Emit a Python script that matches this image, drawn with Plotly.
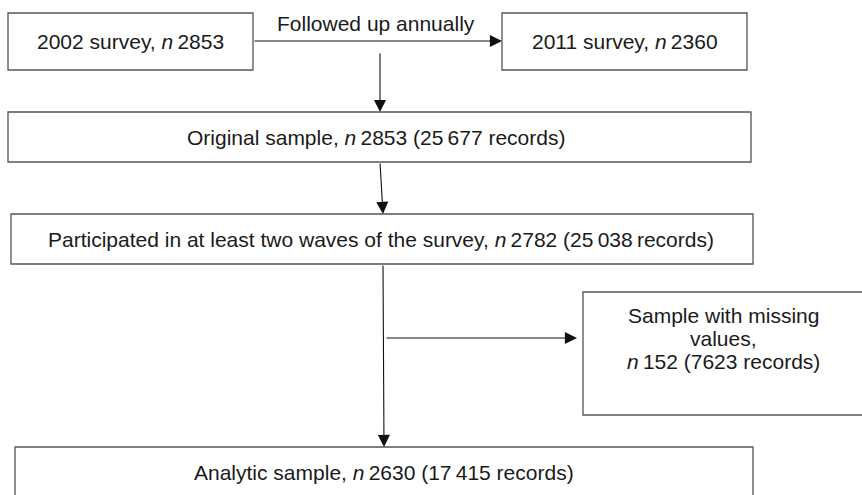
import plotly.graph_objects as go

# ---- content (texts / counts) ----
survey_years = ["2002", "2011"]
survey_n = ["2853", "2360"]
stage_names = ["Original sample", "Participated in at least two waves of the survey",
               "Analytic sample"]
stage_n = ["2853", "2782", "2630"]
stage_records = ["25\u2009677", "25\u2009038", "17\u2009415"]
excluded_name = ["Sample with missing", "values,"]
excluded_n = "152"
excluded_records = "7623"
followup_label = "Followed up annually"

# ---- layout geometry (pixels, y downward) ----
W, H = 862, 495
boxes = {
    "s2002": (8, 253, 13, 70),
    "s2011": (502, 747, 13, 70),
    "orig": (8, 751, 112, 162),
    "part": (11, 753, 214, 264),
    "miss": (583, 900, 292, 415),
    "anal": (15, 753, 447, 520),
}
FONT = dict(family="Liberation Sans, Arial, sans-serif", size=21, color="#1a1a1a")
TS = "\u2009"
BOX_LINE = dict(color="#555555", width=1.3)

fig = go.Figure()
shapes = []
for (x0, x1, y0, y1) in boxes.values():
    path = f"M {x1},{y0} L {x0},{y0} L {x0},{y1} L {x1},{y1}"
    if x1 <= W:
        path += " Z"
    shapes.append(dict(type="path", xref="x", yref="y", path=path,
                       line=BOX_LINE, layer="below"))

annotations = []

def text(x, y, s):
    annotations.append(dict(x=x, y=y, xref="x", yref="y", text=s, showarrow=False,
                            font=FONT, xanchor="center", yanchor="middle"))

def arrow(x0, y0, x1, y1):
    annotations.append(dict(x=x1, y=y1, ax=x0, ay=y0, xref="x", yref="y", axref="x", ayref="y",
                            text="", showarrow=True, arrowhead=2, arrowsize=2.2,
                            arrowwidth=1.1, arrowcolor="#111111", standoff=0))

# box texts
b = boxes["s2002"]
text((b[0] + b[1]) / 2, 41, f"{survey_years[0]} survey, <i>n</i>{TS}{survey_n[0]}")
b = boxes["s2011"]
text((b[0] + b[1]) / 2, 41, f"{survey_years[1]} survey, <i>n</i>{TS}{survey_n[1]}")
text(376, 23, followup_label)
text(376, 137, f"{stage_names[0]}, <i>n</i>{TS}{stage_n[0]} ({stage_records[0]} records)")
text(381, 239, f"{stage_names[1]}, <i>n</i>{TS}{stage_n[1]} ({stage_records[1]}{TS}records)")
text(384, 472, f"{stage_names[2]}, <i>n</i>{TS}{stage_n[2]} ({stage_records[2]} records)")
text(723, 315, excluded_name[0])
text(723, 338, excluded_name[1])
text(723, 361, f"<i>n</i>{TS}{excluded_n} ({excluded_records} records)")

# connectors
arrow(253, 41, 502, 41)
arrow(380, 52, 380, 112)
arrow(380, 162, 383, 214)
arrow(383, 264, 384, 447)
arrow(385, 338, 577, 338)

fig.update_layout(
    width=W, height=H, margin=dict(l=0, r=0, t=0, b=0),
    paper_bgcolor="white", plot_bgcolor="white",
    xaxis=dict(range=[0, W], visible=False, fixedrange=True),
    yaxis=dict(range=[H, 0], visible=False, fixedrange=True),
    shapes=shapes, annotations=annotations, showlegend=False,
)
fig.write_html("out.html", config={"displayModeBar": False},
               post_script="document.body.style.margin='0';document.body.style.overflow='hidden';")
